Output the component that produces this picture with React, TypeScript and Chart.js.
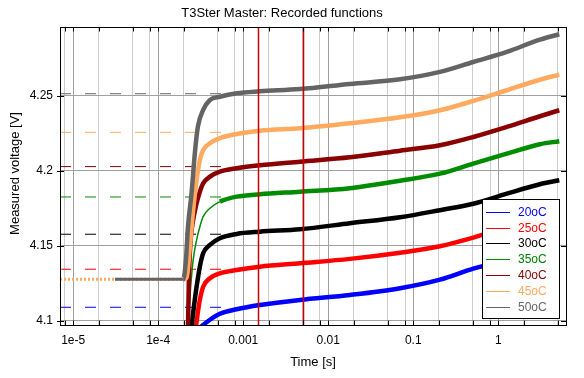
import React, { useEffect, useRef } from 'react';
import { Chart, registerables } from 'chart.js';

Chart.register(...registerables);

const FONT = '"Liberation Sans", Arial, sans-serif';

const chartTitle = 'T3Ster Master: Recorded functions';
const xTitle = 'Time [s]';
const yTitle = 'Measured voltage [V]';

const seriesLabels = ['20oC', '25oC', '30oC', '35oC', '40oC', '45oC', '50oC'];
const seriesColors = ['#0000ff', '#ff0000', '#000000', '#008c00', '#8b0000', '#ffaa5f', '#646464'];
const legendTextColors = ['#0000ff', '#ff0000', '#000000', '#008000', '#800000', '#ffa860', '#666666'];

// dashed "initial value" levels for each series (20oC ... 50oC)
const initialLevels = [4.1091, 4.1344, 4.1577, 4.1825, 4.2027, 4.2255, 4.2512];
const dashStart = 7e-6;
const dashEnd = 5.6e-4;

const t20 = [3.0e-4, 4.06e-4, 5.32e-4, 8.37e-4, 1.57e-3, 4.65e-3, 1.8e-2, 7.0e-2, 0.206, 0.508, 1.26, 3.09, 5.22];
const v20 = [4.095, 4.1008, 4.1048, 4.1078, 4.1106, 4.114, 4.1173, 4.1218, 4.1275, 4.1348, 4.1405, 4.1455, 4.1481];

const t25 = [2.75e-4, 2.88e-4, 3.09e-4, 3.38e-4, 4.06e-4, 5.32e-4, 8.37e-4, 1.57e-3, 4.65e-3, 1.8e-2, 7.0e-2, 0.206, 0.508, 1.26, 3.09, 5.22];
const v25 = [4.094, 4.1029, 4.114, 4.1228, 4.1284, 4.1317, 4.1339, 4.1361, 4.1384, 4.1413, 4.1454, 4.1497, 4.1554, 4.1622, 4.168, 4.1703];

const t30 = [2.41e-4, 2.47e-4, 2.63e-4, 2.83e-4, 3.09e-4, 3.38e-4, 4.06e-4, 5.32e-4, 8.37e-4, 1.57e-3, 4.65e-3, 1.8e-2, 7.0e-2, 0.206, 0.508, 1.26, 3.09, 5.22];
const v30 = [4.09, 4.0962, 4.1095, 4.1228, 4.1361, 4.145, 4.1506, 4.155, 4.1579, 4.1594, 4.161, 4.165, 4.169, 4.1737, 4.178, 4.1847, 4.191, 4.1936];

const t35 = [2.2e-4, 2.25e-4, 2.41e-4, 2.58e-4, 2.83e-4, 3.09e-4, 3.38e-4, 4.06e-4, 5.32e-4, 8.37e-4, 1.57e-3, 4.65e-3, 1.8e-2, 7.0e-2, 0.206, 0.508, 1.26, 3.09, 5.22];
const v35 = [4.09, 4.0987, 4.1228, 4.1406, 4.1539, 4.1627, 4.1694, 4.175, 4.1794, 4.1827, 4.1843, 4.186, 4.1883, 4.1933, 4.198, 4.2047, 4.2113, 4.2176, 4.2196];

const t40 = [2.2e-4, 2.25e-4, 2.3e-4, 2.41e-4, 2.58e-4, 2.83e-4, 3.09e-4, 3.38e-4, 4.06e-4, 5.32e-4, 8.37e-4, 1.57e-3, 4.65e-3, 1.8e-2, 7.0e-2, 0.206, 0.508, 1.26, 3.09, 5.22];
const v40 = [4.09, 4.1007, 4.1295, 4.1539, 4.1672, 4.1783, 4.186, 4.1916, 4.196, 4.1993, 4.2016, 4.2036, 4.206, 4.2089, 4.2133, 4.2169, 4.2224, 4.2291, 4.2362, 4.2402];

const t45 = [7e-6, 2.0e-4, 2.16e-4, 2.36e-4, 2.58e-4, 2.83e-4, 3.09e-4, 3.38e-4, 4.06e-4, 5.32e-4, 8.37e-4, 1.57e-3, 4.65e-3, 1.8e-2, 7.0e-2, 0.206, 0.508, 1.26, 3.09, 5.22];
const v45 = [4.1277, 4.1277, 4.129, 4.1494, 4.1739, 4.1938, 4.2071, 4.2138, 4.2182, 4.2216, 4.2244, 4.2266, 4.2282, 4.2315, 4.2355, 4.2402, 4.2464, 4.2535, 4.2605, 4.2639];

const t50 = [3.1e-5, 1.97e-4, 2.12e-4, 2.24e-4, 2.47e-4, 2.7e-4, 2.93e-4, 3.38e-4, 4.06e-4, 5.32e-4, 8.37e-4, 1.57e-3, 4.65e-3, 1.8e-2, 7.0e-2, 0.206, 0.508, 1.26, 3.09, 5.22];
const v50 = [4.1277, 4.1277, 4.1406, 4.1625, 4.1852, 4.2118, 4.2293, 4.2404, 4.247, 4.2492, 4.2515, 4.2528, 4.2543, 4.2577, 4.2608, 4.2657, 4.2723, 4.279, 4.2872, 4.2908];

const seriesTimes = [t20, t25, t30, t35, t40, t45, t50];
const seriesValues = [v20, v25, v30, v35, v40, v45, v50];

const markerTimes = [0.0015, 0.005];

const xMajorTicks = [1e-5, 1e-4, 1e-3, 1e-2, 1e-1, 1];
const xTickLabels = ['1e-5', '1e-4', '0.001', '0.01', '0.1', '1'];
const xMinorTicks = [8e-6, 2e-5, 5e-5, 8e-5, 2e-4, 5e-4, 8e-4, 2e-3, 5e-3, 8e-3, 0.02, 0.05, 0.08, 0.2, 0.5, 0.8, 2, 5];
const yTicks = [4.1, 4.15, 4.2, 4.25];
const yTickLabels = ['4.1', '4.15', '4.2', '4.25'];

const xMin = 7e-6;
const xMax = 6.26;
const yMin = 4.0973;
const yMax = 4.2956;

const isMajor = (v: number) => xMajorTicks.some((m) => Math.abs(m - v) / m < 1e-6);

const decorPlugin = {
  id: 'decor',
  afterDatasetsDraw(chart: any) {
    const { ctx, chartArea: a, scales } = chart;
    const x = scales.x;
    const y = scales.y;
    ctx.save();
    ctx.strokeStyle = '#cc0000';
    ctx.lineWidth = 1.5;
    markerTimes.forEach((t) => {
      const px = Math.round(x.getPixelForValue(t)) + 0.5;
      ctx.beginPath();
      ctx.moveTo(px, a.top);
      ctx.lineTo(px, a.bottom);
      ctx.stroke();
    });
    ctx.strokeStyle = '#000';
    ctx.lineWidth = 1;
    ctx.strokeRect(a.left + 0.5, a.top + 0.5, a.right - a.left, a.bottom - a.top);
    ctx.beginPath();
    [...xMinorTicks, ...xMajorTicks].forEach((v) => {
      const px = Math.round(x.getPixelForValue(v)) + 0.5;
      ctx.moveTo(px, a.bottom + 0.5);
      ctx.lineTo(px, a.bottom - 4.5);
      ctx.moveTo(px, a.top);
      ctx.lineTo(px, a.top + 4.5);
    });
    yTicks.forEach((v) => {
      const py = Math.round(y.getPixelForValue(v)) + 0.5;
      ctx.moveTo(a.left - 3, py);
      ctx.lineTo(a.left + 4, py);
      ctx.moveTo(a.right - 5, py);
      ctx.lineTo(a.right + 1, py);
    });
    ctx.stroke();
    ctx.restore();
  },
  afterDraw(chart: any) {
    const { ctx, chartArea: a } = chart;
    ctx.save();
    ctx.fillStyle = '#000';
    ctx.font = `13px ${FONT}`;
    ctx.textAlign = 'center';
    ctx.textBaseline = 'alphabetic';
    ctx.fillText(chartTitle, 282, 17);
    ctx.fillText(xTitle, (a.left + a.right) / 2, 366);
    ctx.save();
    ctx.translate(18.5, 173.5);
    ctx.rotate(-Math.PI / 2);
    ctx.fillText(yTitle, 0, 0);
    ctx.restore();

    const lx = 482.5;
    const ly = 199.5;
    const lw = 77;
    const lh = 119;
    ctx.fillStyle = '#fff';
    ctx.fillRect(lx, ly, lw, lh);
    ctx.strokeStyle = '#000';
    ctx.lineWidth = 1;
    ctx.strokeRect(lx, ly, lw, lh);
    ctx.font = `12px ${FONT}`;
    ctx.textAlign = 'left';
    ctx.textBaseline = 'middle';
    seriesLabels.forEach((lab, i) => {
      const ry = Math.round(211.7 + i * 15.85) + 0.5;
      ctx.strokeStyle = seriesColors[i];
      ctx.beginPath();
      ctx.moveTo(486, ry);
      ctx.lineTo(510, ry);
      ctx.stroke();
      ctx.fillStyle = legendTextColors[i];
      ctx.fillText(lab, 518, ry + 0.5);
    });
    ctx.restore();
  },
};

export default function App() {
  const ref = useRef<HTMLCanvasElement | null>(null);

  useEffect(() => {
    if (!ref.current) return;

    const dashed = initialLevels.map((lvl, i) => ({
      label: seriesLabels[i] + ' init',
      data: [
        { x: dashStart, y: lvl },
        { x: dashEnd, y: lvl },
      ],
      borderColor: seriesColors[i],
      borderWidth: 1,
      borderDash: [11, 14],
      pointRadius: 0,
      order: 10,
      clip: 0,
    }));

    const curves = seriesLabels.map((lab, i) => {
      const ds: any = {
        label: lab,
        data: seriesTimes[i].map((t, k) => ({ x: t, y: seriesValues[i][k] })),
        borderColor: seriesColors[i],
        borderWidth: 4.5,
        pointRadius: 0,
        borderJoinStyle: 'round',
        cubicInterpolationMode: 'monotone',
        order: 6 - i,
        clip: 0,
      };
      if (i === 3) {
        ds.segment = { borderWidth: (c: any) => (c.p1.parsed.x <= 5.4e-4 ? 1.5 : undefined) };
      }
      if (i === 5) {
        ds.segment = {
          borderWidth: (c: any) => (c.p1.parsed.x <= 2.0e-4 ? 3 : undefined),
          borderDash: (c: any) => (c.p1.parsed.x <= 2.0e-4 ? [2, 2] : undefined),
        };
      }
      if (i === 6) {
        ds.segment = { borderWidth: (c: any) => (c.p1.parsed.x <= 1.98e-4 ? 3 : undefined) };
      }
      return ds;
    });

    const chart = new Chart(ref.current, {
      type: 'line',
      data: { datasets: [...dashed, ...curves] },
      options: {
        responsive: false,
        animation: false,
        devicePixelRatio: 1,
        layout: { padding: { top: 27, right: 18, left: 0, bottom: 0 } },
        plugins: {
          legend: { display: false },
          title: { display: false },
          tooltip: { enabled: false },
        },
        scales: {
          x: {
            type: 'logarithmic',
            min: xMin,
            max: xMax,
            afterBuildTicks: (s: any) => {
              s.ticks = [...xMinorTicks, ...xMajorTicks].sort((p, q) => p - q).map((v) => ({ value: v }));
            },
            afterFit: (s: any) => {
              s.height = 53;
            },
            border: { display: false },
            grid: {
              drawTicks: false,
              lineWidth: 1,
              color: (c: any) => (c.tick && isMajor(c.tick.value) ? '#a0a0a0' : '#cdcdcd'),
            },
            ticks: {
              autoSkip: false,
              maxRotation: 0,
              padding: 8,
              color: '#000',
              font: { family: FONT, size: 12 },
              callback: (v: any) => {
                const idx = xMajorTicks.findIndex((m) => Math.abs(m - v) / m < 1e-6);
                return idx >= 0 ? xTickLabels[idx] : '';
              },
            },
          },
          y: {
            type: 'linear',
            min: yMin,
            max: yMax,
            afterBuildTicks: (s: any) => {
              s.ticks = yTicks.map((v) => ({ value: v }));
            },
            afterFit: (s: any) => {
              s.width = 60;
            },
            border: { display: false },
            grid: { drawTicks: false, color: '#a0a0a0', lineWidth: 1 },
            ticks: {
              padding: 7,
              color: '#000',
              font: { family: FONT, size: 12 },
              callback: (v: any) => {
                const idx = yTicks.findIndex((m) => Math.abs(m - v) < 1e-6);
                return idx >= 0 ? yTickLabels[idx] : '';
              },
            },
          },
        },
      } as any,
      plugins: [decorPlugin],
    });

    return () => chart.destroy();
  }, []);

  return (
    <div style={{ position: 'absolute', left: 0, top: 0, width: 584, height: 378, background: '#fff' }}>
      <canvas ref={ref} width={584} height={378} style={{ display: 'block', width: 584, height: 378 }} />
    </div>
  );
}
